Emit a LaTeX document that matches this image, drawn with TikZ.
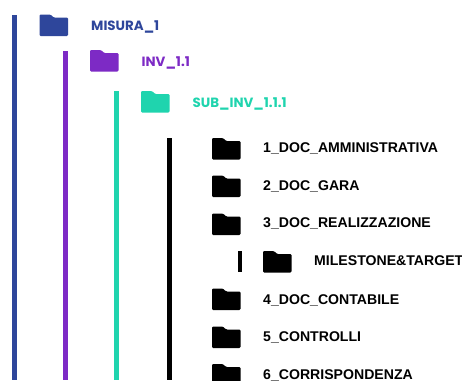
\documentclass[tikz,border=0pt]{standalone}
\usepackage{fontspec}
\setmainfont{Liberation Sans}
\newfontfamily\headfont{Poppins}
\definecolor{cblue}{HTML}{2E469B}
\definecolor{cpurple}{HTML}{7D2AC5}
\definecolor{cgreen}{HTML}{1FD4AE}
\tikzset{
  bar/.style={fill=#1,draw=none},
  folder/.pic={\fill[rounded corners=1.2pt,pic actions] (0,0) -- (0,21.5) -- (28.5,21.5) -- (28.5,3) -- (14,3) -- (11,0) -- cycle;},
  head/.style={anchor=west,inner sep=0pt,text=#1,font=\headfont\bfseries\fontsize{13.4}{15}\selectfont},
  item/.style={anchor=west,inner sep=0pt,text=black,font=\bfseries\fontsize{14.1}{16}\selectfont}
}
\begin{document}
\begin{tikzpicture}[x=1pt,y=-1pt]
\useasboundingbox (0,0) rectangle (462,380);
\clip (0,0) rectangle (462,380);
\fill[bar=white] (0,0) rectangle (462,380);
\fill[bar=cblue] (12,14.5) rectangle (16.5,380);
\fill[bar=cpurple] (63,51) rectangle (67.5,380);
\fill[bar=cgreen] (114,91) rectangle (118.5,380);
\fill[bar=black] (166.5,138) rectangle (171.5,380);
\fill[bar=black] (237.5,251) rectangle (242,272);
\pic[fill=cblue] at (39.5,14.5) {folder};
\pic[fill=cpurple] at (90,50) {folder};
\pic[fill=cgreen] at (141,91) {folder};
\pic[fill=black] at (212,138) {folder};
\pic[fill=black] at (212,175.5) {folder};
\pic[fill=black] at (212,213.5) {folder};
\pic[fill=black] at (263,251) {folder};
\pic[fill=black] at (212,288.5) {folder};
\pic[fill=black] at (212,326.5) {folder};
\pic[fill=black] at (212,364) {folder};
\node[head=cblue] (m) at (91,27) {MISURA\_1};
\node[head=cpurple] (i) at (141.5,63) {INV\_1.1};
\node[head=cgreen] (s) at (192.5,103.5) {SUB\_INV\_1.1.1};
\node[item] (a) at (263,148) {1\_DOC\_AMMINISTRATIVA};
\node[item] (b) at (263,186) {2\_DOC\_GARA};
\node[item] (c) at (263,223.5) {3\_DOC\_REALIZZAZIONE};
\node[item] (d) at (314,261) {MILESTONE\&TARGET};
\node[item] (e) at (263,300) {4\_DOC\_CONTABILE};
\node[item] (f) at (263,337.5) {5\_CONTROLLI};
\node[item] (g) at (263,375) {6\_CORRISPONDENZA};
\end{tikzpicture}
\end{document}
